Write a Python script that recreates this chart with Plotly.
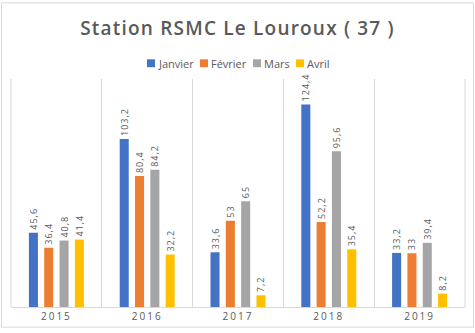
import plotly.graph_objects as go

years = ["2015", "2016", "2017", "2018", "2019"]
months = ["Janvier", "Février", "Mars", "Avril"]
janvier = [45.6, 103.2, 33.6, 124.4, 33.2]
fevrier = [36.4, 80.4, 53, 52.2, 33]
mars = [40.8, 84.2, 65, 95.6, 39.4]
avril = [41.4, 32.2, 7.2, 35.4, 8.2]
colors = ["#4472C4", "#ED7D31", "#A5A5A5", "#FFC000"]

TXT = "#595959"
GRID = "#D9D9D9"
W, H = 475, 333
ML, MR, MT, MB = 11, 10, 79, 22
PW, PH = W - ML - MR, H - MT - MB


def px_x(x):
    return (x - ML) / PW


def px_y(y):
    return (H - MB - y) / PH


def fr(v):
    return f"{v:g}".replace(".", ",")


def spaced(s, sp):
    return f"<span style='letter-spacing:{sp}px'>{s}</span>"


fig = go.Figure()
for name, vals, col in zip(months, [janvier, fevrier, mars, avril], colors):
    fig.add_trace(go.Bar(
        x=years, y=vals, name=name, marker_color=col, marker_line_width=0,
        text=[spaced(fr(v), 1) for v in vals], textposition="outside",
        textangle=-90, constraintext="none",
        textfont=dict(family="Open Sans", size=9, color=TXT),
        cliponaxis=False, showlegend=False, hoverinfo="skip",
    ))

# legend: small square swatch followed by the month name
legend_x = [147, 200, 253, 296]
for name, col, lx in zip(months, colors, legend_x):
    fig.add_shape(type="rect", xref="paper", yref="paper",
                  x0=px_x(lx), x1=px_x(lx + 8), y0=px_y(67), y1=px_y(59),
                  fillcolor=col, line_width=0)
    fig.add_annotation(text=name, xref="paper", yref="paper",
                       x=px_x(lx + 9), y=px_y(63), xanchor="left", yanchor="middle",
                       showarrow=False, font=dict(family="Open Sans", size=11, color=TXT))

# plot-area edge lines and outer frame
for ex in (0, 1):
    fig.add_shape(type="line", xref="paper", yref="paper", x0=ex, x1=ex, y0=0, y1=1,
                  line=dict(color=GRID, width=1))
fig.add_shape(type="rect", xref="paper", yref="paper",
              x0=px_x(1.5), x1=px_x(473.5), y0=px_y(331.5), y1=px_y(1.5),
              line=dict(color=GRID, width=1), layer="below")

fig.update_layout(
    width=W, height=H,
    margin=dict(l=ML, r=MR, t=MT, b=MB),
    paper_bgcolor="white", plot_bgcolor="white",
    barmode="group", bargap=0.325, bargroupgap=0.41,
    showlegend=False,
    title=dict(text=spaced("Station RSMC Le Louroux ( 37 )", 1.2), x=0.5, xanchor="center",
               y=1 - 28 / H, yanchor="middle",
               font=dict(family="Open Sans", size=19, color=TXT, weight=600)),
    xaxis=dict(type="category", tickson="boundaries", ticks="",
               tickvals=years, ticktext=[spaced(y, 2) for y in years],
               showgrid=True, gridcolor=GRID, gridwidth=1,
               showline=True, linecolor=GRID, linewidth=1,
               tickfont=dict(family="Open Sans", size=10, color=TXT),
               range=[-0.5, 4.5]),
    yaxis=dict(range=[0, 140], visible=False, showgrid=False, zeroline=False),
    font=dict(family="Open Sans", color=TXT),
)

fig.write_html("out.html")
